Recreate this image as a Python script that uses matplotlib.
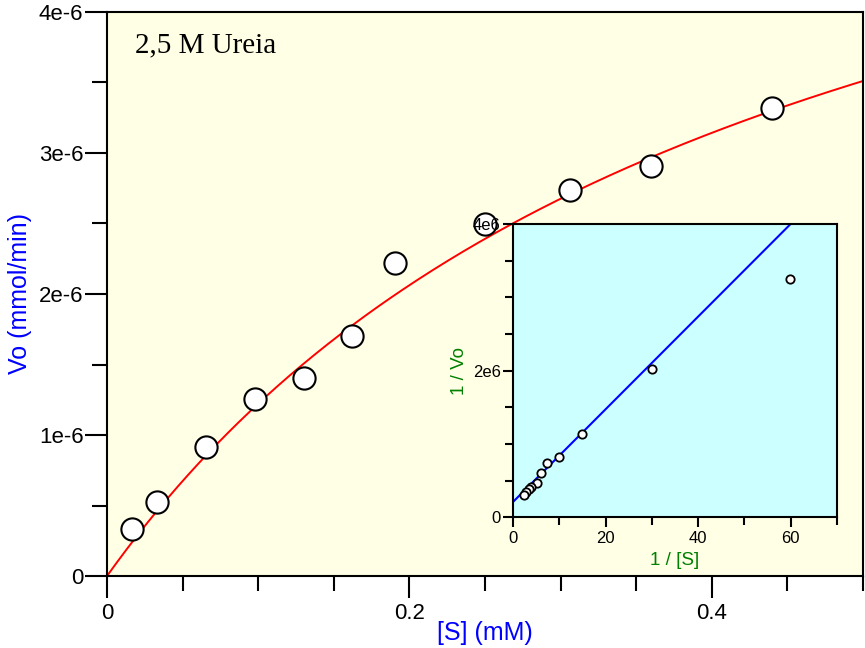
import numpy as np
import matplotlib
matplotlib.use('Agg')
from matplotlib import pyplot as plt
from matplotlib.ticker import MultipleLocator

# Main plot data: [S] (mM) vs Vo (mmol/min)
s_conc = [0.0167, 0.0333, 0.0656, 0.098, 0.130, 0.162, 0.1907, 0.2497, 0.306, 0.360, 0.440]
v_rate = [0.331e-6, 0.525e-6, 0.915e-6, 1.255e-6, 1.404e-6, 1.70e-6, 2.22e-6,
          2.496e-6, 2.74e-6, 2.91e-6, 3.32e-6]

# Michaelis-Menten fit
vmax_fit = 6.6e-6
km_fit = 0.44

# Inset (Lineweaver-Burk) data: 1/[S] vs 1/Vo
inv_s = [59.8, 30.0, 14.9, 9.9, 7.35, 6.0, 5.1, 3.8, 3.3, 2.8, 2.25]
inv_v = [3.25e6, 2.02e6, 1.13e6, 0.82e6, 0.74e6, 0.60e6, 0.465e6, 0.41e6,
         0.38e6, 0.35e6, 0.31e6]

# straight line of the inset
lb_intercept = 0.213e6
lb_slope = 0.0631e6

main_xticks = [0, 0.2, 0.4]
main_xlabels = ['0', '0.2', '0.4']
main_yticks = [0, 1e-6, 2e-6, 3e-6, 4e-6]
main_ylabels = ['0', '1e-6', '2e-6', '3e-6', '4e-6']
inset_xticks = [0, 20, 40, 60]
inset_xlabels = ['0', '20', '40', '60']
inset_yticks = [0, 2e6, 4e6]
inset_ylabels = ['0', '2e6', '4e6']

plt.rcParams['font.family'] = ['Liberation Sans', 'DejaVu Sans']


def style_axes(ax, lw, major_len, minor_len, labelsize, xpad, ypad):
    for sp in ax.spines.values():
        sp.set_linewidth(lw)
    ax.tick_params(which='major', direction='out', length=major_len, width=lw,
                   labelsize=labelsize)
    ax.tick_params(which='minor', direction='out', length=minor_len, width=lw)
    ax.tick_params(axis='x', which='major', pad=xpad)
    ax.tick_params(axis='y', which='major', pad=ypad)


def main():
    fig = plt.figure(figsize=(8.65, 6.48), dpi=100)

    # main axes
    ax = fig.add_axes([0.1237, 0.1111, 0.874, 0.8704])
    ax.set_facecolor('#ffffe5')
    xs = np.linspace(0, 0.5, 300)
    ax.plot(xs, vmax_fit * xs / (km_fit + xs), color='red', lw=1.4, zorder=2)
    ax.plot(s_conc, v_rate, 'o', ms=16, mfc='white', mec='black', mew=1.5, zorder=3)
    ax.set_xlim(0, 0.5)
    ax.set_ylim(0, 4e-6)
    ax.set_xticks(main_xticks)
    ax.set_xticklabels(main_xlabels)
    ax.set_yticks(main_yticks)
    ax.set_yticklabels(main_ylabels)
    ax.xaxis.set_minor_locator(MultipleLocator(0.05))
    ax.yaxis.set_minor_locator(MultipleLocator(0.5e-6))
    style_axes(ax, 1.5, 15.5, 10.5, 16, 4, 1.5)
    ax.set_xlabel('[S] (mM)', color='blue', fontsize=18)
    ax.set_ylabel('Vo (mmol/min)', color='blue', fontsize=18)
    ax.xaxis.set_label_coords(0.5, -0.08)
    ax.yaxis.set_label_coords(-0.099, 0.5)
    ax.text(0.037, 0.929, '2,5 M Ureia', transform=ax.transAxes, fontsize=21,
            family=['Liberation Serif', 'DejaVu Serif'], va='baseline')

    # inset axes
    ins = fig.add_axes([0.5934, 0.2017, 0.3739, 0.4526])
    ins.set_facecolor('#ccffff')
    xl = np.linspace(0, 70, 200)
    ins.plot(xl, lb_intercept + lb_slope * xl, color='blue', lw=1.5, zorder=2)
    ins.plot(inv_s, inv_v, 'o', ms=6, mfc='white', mec='black', mew=1.3, zorder=3)
    ins.set_xlim(0, 70)
    ins.set_ylim(0, 4e6)
    ins.set_xticks(inset_xticks)
    ins.set_xticklabels(inset_xlabels)
    ins.set_yticks(inset_yticks)
    ins.set_yticklabels(inset_ylabels)
    ins.xaxis.set_minor_locator(MultipleLocator(10))
    ins.yaxis.set_minor_locator(MultipleLocator(0.5e6))
    style_axes(ins, 1.5, 7.5, 6, 12, 2.5, 1.5)
    ins.set_xlabel('1 / [S]', color='green', fontsize=13.5)
    ins.set_ylabel('1 / Vo', color='green', fontsize=13.5)
    ins.xaxis.set_label_coords(0.5, -0.12)
    ins.yaxis.set_label_coords(-0.14, 0.5)

    fig.savefig('out.png', dpi=100)


if __name__ == '__main__':
    main()
